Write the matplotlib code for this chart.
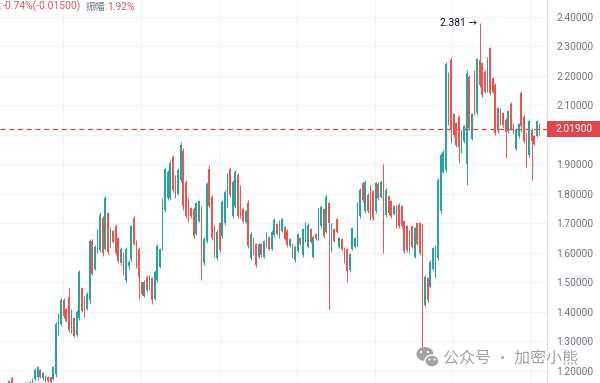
import numpy as np
import matplotlib
matplotlib.use("Agg")
import matplotlib.pyplot as plt
from matplotlib.patches import Rectangle, Ellipse
from matplotlib import transforms

# OHLC, one entry per candle (left -> right)
opens = [
    1.140, 1.130, 1.145, 1.135, 1.150, 1.175, 1.155, 1.140, 1.148, 1.140,
    1.152, 1.158, 1.152, 1.158, 1.172, 1.180, 1.203, 1.175, 1.182, 1.180,
    1.178, 1.172, 1.190, 1.330, 1.360, 1.440, 1.410, 1.450, 1.335, 1.378,
    1.322, 1.380, 1.480, 1.450, 1.410, 1.440, 1.640, 1.545, 1.605, 1.610,
    1.720, 1.615, 1.735, 1.625, 1.675, 1.692, 1.650, 1.565, 1.600, 1.510,
    1.555, 1.580, 1.718, 1.640, 1.615, 1.500, 1.455, 1.520, 1.478, 1.515,
    1.445, 1.508, 1.552, 1.615, 1.745, 1.785, 1.785, 1.925, 1.860, 1.800,
    1.848, 1.945, 1.840, 1.780, 1.752, 1.750, 1.665, 1.710, 1.755, 1.565,
    1.640, 1.885, 1.790, 1.690, 1.582, 1.700, 1.656, 1.700, 1.762, 1.885,
    1.725, 1.758, 1.865, 1.825, 1.748, 1.706, 1.770, 1.582, 1.650, 1.630,
    1.588, 1.630, 1.588, 1.625, 1.655, 1.615, 1.660, 1.698, 1.656, 1.676,
    1.688, 1.676, 1.624, 1.630, 1.576, 1.608, 1.652, 1.592, 1.642, 1.622,
    1.680, 1.588, 1.664, 1.650, 1.690, 1.748, 1.672, 1.770, 1.610, 1.681,
    1.715, 1.620, 1.647, 1.617, 1.612, 1.542, 1.615, 1.620, 1.626, 1.724,
    1.838, 1.741, 1.798, 1.826, 1.809, 1.741, 1.835, 1.790, 1.890, 1.728,
    1.792, 1.775, 1.732, 1.758, 1.764, 1.758, 1.707, 1.690, 1.605, 1.690,
    1.588, 1.702, 1.702, 1.695, 1.425, 1.515, 1.485, 1.546, 1.520, 1.582,
    1.742, 1.876, 1.880, 2.210, 2.255, 2.070, 2.040, 2.062, 1.945, 1.978,
    1.900, 2.198, 1.988, 2.214, 2.074, 2.255, 2.243, 2.215, 2.152, 2.294,
    2.193, 2.170, 2.090, 2.038, 2.074, 2.052, 2.012, 2.106, 2.037, 1.954,
    1.995, 2.143, 2.062, 2.005, 1.932, 2.018, 1.996, 1.998, 2.034,
]
highs = [
    1.150, 1.150, 1.155, 1.160, 1.170, 1.178, 1.160, 1.152, 1.155, 1.158,
    1.162, 1.163, 1.166, 1.175, 1.210, 1.217, 1.207, 1.197, 1.185, 1.183,
    1.180, 1.217, 1.366, 1.397, 1.447, 1.447, 1.414, 1.481, 1.410, 1.380,
    1.407, 1.542, 1.485, 1.454, 1.468, 1.647, 1.647, 1.627, 1.681, 1.739,
    1.725, 1.793, 1.739, 1.688, 1.678, 1.698, 1.654, 1.620, 1.603, 1.620,
    1.575, 1.695, 1.725, 1.644, 1.620, 1.503, 1.508, 1.525, 1.525, 1.520,
    1.542, 1.630, 1.617, 1.786, 1.892, 1.881, 1.915, 1.932, 1.864, 1.888,
    1.977, 1.956, 1.847, 1.786, 1.757, 1.757, 1.774, 1.780, 1.759, 1.655,
    1.842, 1.898, 1.797, 1.695, 1.678, 1.706, 1.780, 1.814, 1.871, 1.892,
    1.847, 1.881, 1.871, 1.831, 1.753, 1.746, 1.780, 1.672, 1.655, 1.634,
    1.634, 1.634, 1.644, 1.672, 1.658, 1.678, 1.719, 1.702, 1.712, 1.719,
    1.692, 1.681, 1.651, 1.634, 1.627, 1.668, 1.655, 1.685, 1.706, 1.702,
    1.685, 1.661, 1.668, 1.753, 1.763, 1.753, 1.797, 1.774, 1.702, 1.685,
    1.719, 1.655, 1.651, 1.621, 1.617, 1.600, 1.689, 1.655, 1.774, 1.820,
    1.842, 1.847, 1.803, 1.831, 1.814, 1.842, 1.840, 1.847, 1.902, 1.820,
    1.797, 1.780, 1.763, 1.763, 1.770, 1.763, 1.712, 1.695, 1.678, 1.695,
    1.689, 1.706, 1.706, 1.698, 1.525, 1.520, 1.576, 1.621, 1.627, 1.854,
    1.939, 1.949, 2.248, 2.215, 2.265, 2.075, 2.045, 2.068, 2.017, 2.034,
    2.220, 2.204, 2.075, 2.220, 2.262, 2.381, 2.248, 2.220, 2.265, 2.299,
    2.198, 2.176, 2.096, 2.092, 2.079, 2.058, 2.085, 2.112, 2.041, 2.024,
    2.041, 2.149, 2.068, 2.011, 2.054, 2.024, 2.000, 2.051, 2.040,
]
lows = [
    1.120, 1.120, 1.130, 1.130, 1.145, 1.150, 1.135, 1.130, 1.135, 1.135,
    1.145, 1.148, 1.148, 1.152, 1.168, 1.170, 1.176, 1.170, 1.163, 1.162,
    1.158, 1.168, 1.180, 1.322, 1.353, 1.380, 1.366, 1.332, 1.329, 1.315,
    1.319, 1.373, 1.400, 1.383, 1.407, 1.430, 1.525, 1.542, 1.600, 1.603,
    1.590, 1.610, 1.597, 1.620, 1.634, 1.593, 1.566, 1.559, 1.525, 1.502,
    1.545, 1.573, 1.627, 1.549, 1.444, 1.458, 1.451, 1.469, 1.475, 1.427,
    1.441, 1.503, 1.549, 1.610, 1.740, 1.780, 1.780, 1.808, 1.786, 1.797,
    1.842, 1.746, 1.719, 1.705, 1.719, 1.651, 1.661, 1.706, 1.508, 1.559,
    1.634, 1.753, 1.644, 1.587, 1.576, 1.604, 1.651, 1.695, 1.757, 1.791,
    1.719, 1.753, 1.719, 1.719, 1.702, 1.702, 1.617, 1.576, 1.593, 1.553,
    1.583, 1.587, 1.583, 1.621, 1.610, 1.610, 1.655, 1.661, 1.651, 1.672,
    1.644, 1.621, 1.621, 1.583, 1.571, 1.604, 1.627, 1.587, 1.638, 1.617,
    1.634, 1.583, 1.644, 1.644, 1.685, 1.651, 1.668, 1.407, 1.604, 1.638,
    1.668, 1.617, 1.610, 1.566, 1.503, 1.537, 1.610, 1.617, 1.621, 1.719,
    1.774, 1.736, 1.736, 1.712, 1.712, 1.736, 1.780, 1.785, 1.600, 1.723,
    1.729, 1.719, 1.729, 1.685, 1.685, 1.685, 1.600, 1.603, 1.600, 1.617,
    1.583, 1.627, 1.593, 1.282, 1.418, 1.435, 1.480, 1.542, 1.515, 1.576,
    1.736, 1.871, 1.875, 2.034, 1.973, 1.994, 1.960, 1.905, 1.939, 1.973,
    1.830, 2.017, 1.983, 2.068, 2.068, 2.164, 2.130, 2.142, 2.147, 2.136,
    2.142, 2.000, 2.007, 2.034, 2.028, 1.922, 2.007, 2.017, 2.003, 1.949,
    1.990, 2.011, 1.973, 1.892, 1.926, 1.847, 1.966, 1.994, 2.000,
]
closes = [
    1.130, 1.145, 1.135, 1.155, 1.165, 1.155, 1.140, 1.148, 1.140, 1.152,
    1.158, 1.152, 1.162, 1.172, 1.205, 1.212, 1.180, 1.192, 1.168, 1.166,
    1.162, 1.212, 1.360, 1.390, 1.440, 1.385, 1.370, 1.340, 1.400, 1.320,
    1.400, 1.535, 1.405, 1.390, 1.462, 1.640, 1.530, 1.620, 1.675, 1.730,
    1.600, 1.785, 1.605, 1.682, 1.638, 1.600, 1.572, 1.615, 1.530, 1.612,
    1.570, 1.690, 1.632, 1.555, 1.520, 1.462, 1.503, 1.474, 1.520, 1.440,
    1.536, 1.625, 1.612, 1.780, 1.886, 1.875, 1.905, 1.815, 1.792, 1.880,
    1.965, 1.760, 1.725, 1.712, 1.724, 1.658, 1.768, 1.775, 1.640, 1.648,
    1.835, 1.760, 1.650, 1.593, 1.672, 1.610, 1.774, 1.808, 1.865, 1.797,
    1.840, 1.875, 1.725, 1.726, 1.707, 1.741, 1.625, 1.666, 1.598, 1.560,
    1.629, 1.592, 1.640, 1.667, 1.615, 1.672, 1.713, 1.665, 1.706, 1.714,
    1.648, 1.626, 1.647, 1.588, 1.622, 1.663, 1.631, 1.680, 1.700, 1.696,
    1.638, 1.655, 1.648, 1.747, 1.757, 1.656, 1.790, 1.700, 1.697, 1.642,
    1.672, 1.651, 1.614, 1.570, 1.540, 1.595, 1.684, 1.650, 1.768, 1.814,
    1.778, 1.841, 1.741, 1.718, 1.717, 1.836, 1.785, 1.842, 1.760, 1.815,
    1.734, 1.724, 1.759, 1.690, 1.690, 1.692, 1.606, 1.610, 1.672, 1.622,
    1.684, 1.632, 1.600, 1.450, 1.520, 1.440, 1.570, 1.616, 1.620, 1.848,
    1.932, 1.944, 2.240, 2.040, 2.020, 2.000, 1.966, 1.960, 2.012, 2.029,
    2.210, 2.024, 2.070, 2.074, 2.256, 2.170, 2.136, 2.147, 2.260, 2.142,
    2.147, 2.006, 2.013, 2.087, 2.033, 2.010, 2.080, 2.022, 2.008, 2.019,
    2.036, 2.030, 1.980, 1.960, 2.048, 1.980, 1.970, 2.046, 2.019,
]
price_ticks = [1.2, 1.3, 1.4, 1.5, 1.6, 1.7, 1.8, 1.9, 2.0, 2.1, 2.2, 2.3, 2.4]
last_price = 2.019
peak_price = 2.381

up_col = "#26a69a"
dn_col = "#ef5350"

W, H = 600, 383
fig = plt.figure(figsize=(W / 100, H / 100), dpi=100)
ax = fig.add_axes([0, 0, 547 / W, 1])

o = np.array(opens); h = np.array(highs); l = np.array(lows); c = np.array(closes)
x = np.arange(len(o))
up = c >= o
cols = np.where(up, up_col, dn_col)

ax.vlines(x, l, h, colors=cols, lw=0.7, zorder=3)
ax.bar(x, np.maximum(np.abs(c - o), 0.002), bottom=np.minimum(o, c), width=0.68,
       color=cols, linewidth=0, zorder=3)

ax.set_xlim(0.5, 210.9)
ax.set_ylim(1.1593, 2.4576)

# grid
ax.set_xticks([24.7, 54.7, 85.0, 114.7, 144.7, 174.4, 204.3])
ax.set_yticks(price_ticks)
ax.grid(True, color="#f0f3fa", lw=0.8, zorder=0)
ax.tick_params(axis="x", length=0, labelbottom=False)
ax.yaxis.tick_right()
ax.tick_params(axis="y", length=0, pad=6.5, labelsize=7.3, labelcolor="#6f7380")
# the 2.0 label sits under the last-price tag
ax.set_yticklabels(["" if abs(p - last_price) < 0.03 else "%.5f" % p for p in price_ticks],
                   family="Roboto")
for s in ["top", "bottom", "left"]:
    ax.spines[s].set_visible(False)
ax.spines["right"].set_color("#e0e3eb")
ax.spines["right"].set_linewidth(0.8)

# last price line + label
ax.axhline(last_price, color="#d9434a", lw=0.9, ls=(0, (4, 3)), zorder=2)
bt = transforms.blended_transform_factory(fig.transFigure, ax.transData)
ax.add_patch(Rectangle((547 / W, last_price - 0.0271), 53 / W, 0.0542,
                       transform=bt, facecolor="#e0474c", edgecolor="none",
                       clip_on=False, zorder=5))
ax.text(556 / W, last_price, "%.5f" % last_price, transform=bt, color="white",
        fontsize=7.3, family="Roboto", va="center", ha="left", zorder=6)

# peak marker
ax.annotate("%.3f →" % peak_price, xy=(185, peak_price), xytext=(-2, 0),
            textcoords="offset points", ha="right", va="center",
            fontsize=7.4, color="#131722", family=["Roboto", "DejaVu Sans"])

# header text
ty = 1 - 6.5 / H
fs = 7.4
fam = ["Roboto", "Noto Sans CJK SC"]
fig.text(2.5 / W, ty, "幅:", color="#6f7380", fontsize=7, family=fam, ha="right", va="center")
fig.text(2.5 / W, ty, "-0.74%(-0.01500)", color="#e0555f", fontsize=fs, family=fam, va="center")
fig.text(86 / W, ty, "振幅:", color="#6f7380", fontsize=7, family=fam, va="center")
fig.text(107.5 / W, ty, "1.92%", color="#e0555f", fontsize=fs, family=fam, va="center")

# watermark
wm = "#a3a3a3"
fig.patches.append(Ellipse((425 / W, 1 - 354 / H), 17 / W, 14 / H,
                           transform=fig.transFigure, facecolor=wm, edgecolor="none"))
fig.patches.append(Ellipse((432 / W, 1 - 361 / H), 14 / W, 12 / H,
                           transform=fig.transFigure, facecolor=wm, edgecolor="white", lw=1))
for ex, ey in [(421, 352), (428, 352), (429.5, 359.5), (434.5, 359.5)]:
    fig.patches.append(Ellipse((ex / W, 1 - ey / H), 2.2 / W, 2.2 / H,
                               transform=fig.transFigure, facecolor="white", edgecolor="none"))
fig.text(443 / W, 1 - 359 / H, "公众号 · 加密小熊", color=wm, fontsize=11.5,
         family=["Noto Sans CJK SC", "DejaVu Sans"], va="center", ha="left")

fig.savefig("out.png", dpi=100, facecolor="white")
